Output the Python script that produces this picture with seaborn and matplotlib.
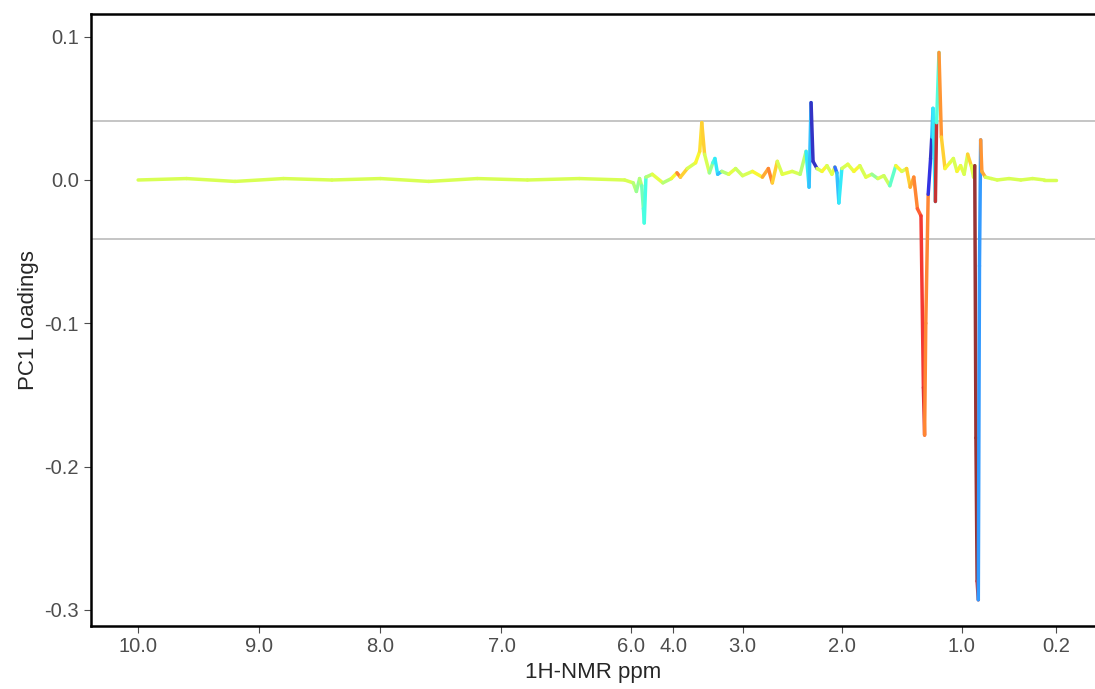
import numpy as np
import matplotlib
matplotlib.use("Agg")
import matplotlib.pyplot as plt
import seaborn as sns
from matplotlib.collections import LineCollection

# chemical shift (ppm), PC1 loading, colour score (0..1 on jet) -- in blocks of 10
ppm_a = [10.0, 9.6, 9.2, 8.8, 8.4, 8.0, 7.6, 7.2, 6.8, 6.4]
load_a = [0.0, 0.001, -0.001, 0.001, 0.0, 0.001, -0.001, 0.001, 0.0, 0.001]
score_a = [0.6] * 10

ppm_b = [6.05, 5.9, 5.75, 5.6, 5.5, 5.42, 5.38, 5.3, 5.0, 4.5]
load_b = [0.0, -0.002, -0.008, 0.001, -0.004, -0.02, -0.03, 0.002, 0.004, -0.002]
score_b = [0.6, 0.55, 0.5, 0.55, 0.45, 0.4, 0.38, 0.55, 0.62, 0.55]

ppm_c = [4.1, 3.95, 3.9, 3.8, 3.68, 3.62, 3.59, 3.55, 3.48, 3.43]
load_c = [0.001, 0.005, 0.002, 0.008, 0.012, 0.02, 0.04, 0.018, 0.005, 0.012]
score_c = [0.65, 0.8, 0.7, 0.6, 0.65, 0.68, 0.7, 0.6, 0.5, 0.38]

ppm_d = [3.4, 3.36, 3.3, 3.2, 3.1, 3.0, 2.9, 2.8, 2.74, 2.7]
load_d = [0.015, 0.004, 0.006, 0.004, 0.008, 0.003, 0.006, 0.002, 0.008, -0.002]
score_d = [0.35, 0.3, 0.55, 0.62, 0.58, 0.6, 0.65, 0.75, 0.8, 0.7]

ppm_e = [2.65, 2.6, 2.5, 2.42, 2.36, 2.33, 2.31, 2.29, 2.25, 2.2]
load_e = [0.013, 0.004, 0.006, 0.004, 0.02, -0.005, 0.054, 0.013, 0.008, 0.006]
score_e = [0.6, 0.62, 0.6, 0.55, 0.35, 0.3, 0.05, 0.05, 0.6, 0.65]

ppm_f = [2.15, 2.1, 2.07, 2.05, 2.03, 2.0, 1.95, 1.9, 1.85, 1.8]
load_f = [0.01, 0.004, 0.009, 0.005, -0.016, 0.008, 0.011, 0.006, 0.01, 0.002]
score_f = [0.6, 0.62, 0.2, 0.3, 0.35, 0.6, 0.62, 0.65, 0.6, 0.62]

ppm_g = [1.75, 1.7, 1.65, 1.6, 1.55, 1.5, 1.46, 1.43, 1.4, 1.37]
load_g = [0.004, 0.001, 0.003, -0.004, 0.01, 0.006, 0.008, -0.005, 0.002, -0.02]
score_g = [0.5, 0.6, 0.58, 0.42, 0.65, 0.6, 0.7, 0.75, 0.8, 0.85]

ppm_h = [1.34, 1.32, 1.31, 1.30, 1.28, 1.26, 1.25, 1.24, 1.22, 1.21]
load_h = [-0.025, -0.145, -0.178, -0.1, -0.01, 0.015, 0.03, 0.05, -0.015, 0.04]
score_h = [0.9, 0.92, 0.8, 0.8, 0.08, 0.05, 0.3, 0.35, 0.95, 0.4]

ppm_i = [1.19, 1.17, 1.14, 1.1, 1.07, 1.04, 1.01, 0.98, 0.95, 0.92]
load_i = [0.089, 0.03, 0.008, 0.012, 0.015, 0.006, 0.01, 0.004, 0.018, 0.01]
score_i = [0.78, 0.7, 0.65, 0.62, 0.6, 0.65, 0.62, 0.6, 0.7, 0.62]

ppm_j = [0.90, 0.89, 0.88, 0.87, 0.86, 0.85, 0.84, 0.83, 0.8, 0.75]
load_j = [0.002, 0.01, -0.18, -0.28, -0.293, -0.06, 0.028, 0.006, 0.002, 0.001]
score_j = [0.6, 1.0, 1.0, 0.95, 0.25, 0.25, 0.78, 0.75, 0.6, 0.6]

ppm_k = [0.7, 0.6, 0.5, 0.4, 0.3, 0.2]
load_k = [0.0, 0.001, 0.0, 0.001, 0.0, 0.0]
score_k = [0.6, 0.6, 0.6, 0.6, 0.6, 0.6]

ppm = ppm_a + ppm_b + ppm_c + ppm_d + ppm_e + ppm_f + ppm_g + ppm_h + ppm_i + ppm_j + ppm_k
loading = load_a + load_b + load_c + load_d + load_e + load_f + load_g + load_h + load_i + load_j + load_k
score = score_a + score_b + score_c + score_d + score_e + score_f + score_g + score_h + score_i + score_j + score_k

xtick_vals = [10.0, 9.0, 8.0, 7.0, 6.0, 4.0, 3.0, 2.0, 1.0, 0.2]
xtick_pos = [0, 1, 2, 3, 4.07, 4.42, 4.99, 5.81, 6.80, 7.58]  # display units of the warped axis
asc_ppm = [-0.4] + xtick_vals[::-1] + [11.0]
asc_u = [-7.9] + [-p for p in xtick_pos[::-1]] + [0.45]

def fwd(v):
    return np.interp(np.asarray(v, float), asc_ppm, asc_u)

def inv(u):
    return np.interp(np.asarray(u, float), asc_u, asc_ppm)

sns.set_style("white")
plt.rcParams['font.family'] = ['Liberation Sans', 'DejaVu Sans']
fig, ax = plt.subplots(figsize=(10.95, 6.89), dpi=100)
fig.subplots_adjust(left=0.083, right=1.0, top=0.98, bottom=0.092)

ax.set_xscale('function', functions=(fwd, inv))
x = np.array(ppm); y = np.array(loading)
pts = np.column_stack([x, y]).reshape(-1, 1, 2)
segs = np.concatenate([pts[:-1], pts[1:]], axis=1)
cols = plt.cm.jet(np.array(score[:-1]))
cols[:, :3] = cols[:, :3] * 0.8 + 0.2
lc = LineCollection(segs, colors=cols, linewidths=2.5, capstyle='round')
ax.add_collection(lc)
ax.axhline(0.041, color='#bbbbbb', lw=1.2, zorder=0)
ax.axhline(-0.041, color='#bbbbbb', lw=1.2, zorder=0)

ax.set_xlim(inv(0.39), inv(-7.9))
ax.set_ylim(-0.311, 0.116)
ax.set_xticks(xtick_vals)
ax.set_xticklabels([f"{t:.1f}" for t in xtick_vals])
ax.set_yticks([0.1, 0.0, -0.1, -0.2, -0.3])
ax.set_yticklabels(["0.1", "0.0", "-0.1", "-0.2", "-0.3"])
ax.tick_params(labelsize=14.5, colors='#4d4d4d', length=5, left=True, bottom=True)
ax.set_xlabel("1H-NMR ppm", fontsize=16)
ax.set_ylabel("PC1 Loadings", fontsize=16)
for s in ax.spines.values():
    s.set_color('black'); s.set_linewidth(1.8)
ax.spines['right'].set_visible(False)
fig.savefig("out.png", dpi=100)
